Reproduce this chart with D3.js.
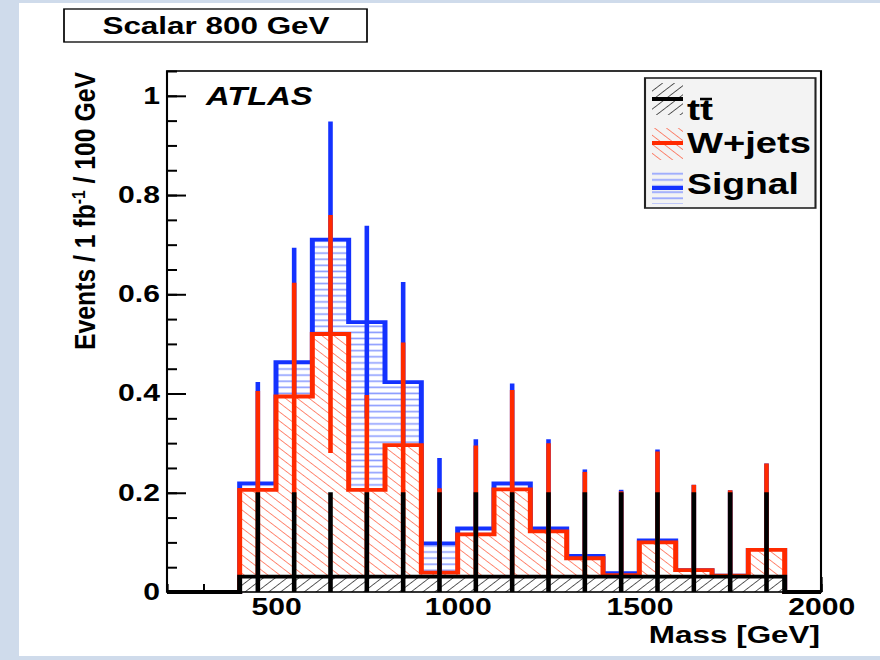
<!DOCTYPE html>
<html>
<head>
<meta charset="utf-8">
<script src="https://cdn.jsdelivr.net/npm/d3@7"></script>
<style>
  html, body { margin: 0; padding: 0; background: #fff; }
  svg { display: block; }
  text { font-family: "Liberation Sans", Arial, sans-serif; font-weight: bold; fill: #000; }
</style>
</head>
<body>
<svg id="chart" width="880" height="660"></svg>
<script>
// ==========================================
// DATA (100 GeV bins, low edges)
// ==========================================
const binLow = [200, 300, 400, 500, 600, 700, 800, 900, 1000, 1100, 1200, 1300, 1400, 1500, 1600, 1700, 1800, 1900];
const binWidth = 100;

const ttbar    = [0, 0, 0.031, 0.031, 0.031, 0.031, 0.031, 0.031, 0.031, 0.031, 0.031, 0.031, 0.031, 0.031, 0.031, 0.031, 0.031, 0];
const ttbarErr = [0, 0, 0.17, 0.17, 0.17, 0.17, 0.17, 0.17, 0.17, 0.17, 0.17, 0.17, 0.17, 0.17, 0.17, 0.17, 0.17, 0];

const wjets    = [0, 0, 0.175, 0.363, 0.489, 0.175, 0.265, 0.008, 0.085, 0.176, 0.091, 0.037, 0.003, 0.069, 0.013, 0.002, 0.054, 0];
const wjetsErr = [0, 0, 0.199, 0.229, 0.240, 0.191, 0.207, 0.170, 0.179, 0.200, 0.178, 0.174, 0.169, 0.183, 0.172, 0.172, 0.174, 0];

const signal    = [0, 0, 0.013, 0.069, 0.190, 0.338, 0.127, 0.059, 0.012, 0.012, 0.006, 0.005, 0.004, 0.004, 0, 0, 0, 0];
const signalErr = [0, 0, 0.204, 0.231, 0.238, 0.194, 0.202, 0.172, 0.180, 0.201, 0.180, 0.174, 0.168, 0.183, 0.172, 0.172, 0.174, 0];

const yTicks = [0, 0.2, 0.4, 0.6, 0.8, 1];
const yTickLabels = ['0', '0.2', '0.4', '0.6', '0.8', '1'];
const yMinorTicks = d3.range(0, 1.051, 0.05);
const xTicks = [500, 1000, 1500, 2000];
const xTickLabels = ['500', '1000', '1500', '2000'];
const xMinorTicks = d3.range(200, 2001, 100);

const legendEntries = ['tt', 'W+jets', 'Signal'];

// ==========================================
// LAYOUT
// ==========================================
// the original canvas is stretched horizontally, so everything is drawn
// in a narrower space and scaled in x
const SX = 1.31;
const ux = v => v / SX;

const frame = { left: 167, right: 821, top: 71, bottom: 592 };

const BLUE = '#1432ff', BLUE_HATCH = '#8a9bff';
const RED = '#ff2a00', RED_HATCH = '#ff4a2a';

const svg = d3.select('#chart');

// slide background
svg.append('rect').attr('width', 880).attr('height', 660).attr('fill', '#cfdbeb');
svg.append('rect').attr('x', 19).attr('y', 3).attr('width', 861).attr('height', 653).attr('fill', '#fff');

const defs = svg.append('defs');
function hatch(id, angle, size, color, width) {
  const p = defs.append('pattern')
    .attr('id', id)
    .attr('patternUnits', 'userSpaceOnUse')
    .attr('width', size).attr('height', size)
    .attr('patternTransform', `rotate(${angle})`);
  p.append('line')
    .attr('x1', 0).attr('y1', -1).attr('x2', 0).attr('y2', size + 1)
    .attr('stroke', color).attr('stroke-width', width);
}
hatch('hatch-tt', 45, 6.4, '#000', 1.1);
hatch('hatch-w', -45, 6.4, RED_HATCH, 1.1);
const ph = defs.append('pattern')
  .attr('id', 'hatch-sig')
  .attr('patternUnits', 'userSpaceOnUse')
  .attr('width', 10).attr('height', 6.1);
ph.append('line')
  .attr('x1', 0).attr('x2', 10).attr('y1', 3).attr('y2', 3)
  .attr('stroke', BLUE_HATCH).attr('stroke-width', 1.6);

const g = svg.append('g').attr('transform', `scale(${SX},1)`);

const x = d3.scaleLinear().domain([200, 2000]).range([ux(frame.left), ux(frame.right)]);
const y = d3.scaleLinear().domain([0, 1.05]).range([frame.bottom, frame.top]);

// ==========================================
// TITLE BOX
// ==========================================
g.append('rect')
  .attr('x', ux(64)).attr('y', 9)
  .attr('width', ux(367 - 64)).attr('height', 33)
  .attr('fill', '#fff').attr('stroke', '#000').attr('stroke-width', 1.3);
g.append('text')
  .attr('x', ux(216)).attr('y', 34.5)
  .attr('text-anchor', 'middle')
  .attr('font-size', 24)
  .text('Scalar 800 GeV');

// ==========================================
// AXES
// ==========================================
const yAxis = g.append('g')
  .attr('transform', `translate(${ux(frame.left)},0)`)
  .call(d3.axisLeft(y).tickValues(yTicks).tickFormat((d, i) => yTickLabels[i])
    .tickSize(-ux(19)).tickPadding(ux(7)));
yAxis.append('g')
  .call(d3.axisLeft(y).tickValues(yMinorTicks).tickFormat('').tickSize(-ux(10)));

const xAxis = g.append('g')
  .attr('transform', `translate(0,${frame.bottom})`)
  .call(d3.axisBottom(x).tickValues(xTicks).tickFormat((d, i) => xTickLabels[i])
    .tickSize(-15).tickPadding(7));
xAxis.append('g')
  .call(d3.axisBottom(x).tickValues(xMinorTicks).tickFormat('').tickSize(-8));

g.selectAll('.domain').remove();
yAxis.selectAll('line').attr('stroke', '#000').attr('stroke-width', 2);
xAxis.selectAll('line').attr('stroke', '#000').attr('stroke-width', 1.5);
g.selectAll('.tick text')
  .attr('font-size', 23)
  .attr('font-family', '"Liberation Sans", Arial, sans-serif')
  .attr('font-weight', 'bold')
  .attr('fill', '#000');

// ==========================================
// STACKED HISTOGRAMS
// ==========================================
const ttTop = ttbar.slice();
const wTop = ttbar.map((v, i) => v + wjets[i]);
const sigTop = wTop.map((v, i) => v + signal[i]);

function steps(tops) {
  const pts = binLow.map((b, i) => ({ x: b, top: tops[i] }));
  pts.push({ x: binLow[binLow.length - 1] + binWidth, top: tops[tops.length - 1] });
  return pts;
}

const area = d3.area().curve(d3.curveStepAfter)
  .x(d => x(d.x)).y0(y(0)).y1(d => y(d.top));
const outline = d3.line().curve(d3.curveStepAfter)
  .x(d => x(d.x)).y(d => y(d.top));

function drawHist(tops, errs, color, patternId) {
  const pts = steps(tops);
  const h = g.append('g');
  h.append('path').attr('d', area(pts)).attr('fill', '#fff');
  h.append('path').attr('d', area(pts)).attr('fill', `url(#${patternId})`);
  h.append('path').attr('d', outline(pts))
    .attr('fill', 'none').attr('stroke', color).attr('stroke-width', 3.8);
  h.selectAll('line.err')
    .data(binLow.map((b, i) => ({ c: b + binWidth / 2, top: tops[i], e: errs[i] })).filter(d => d.e > 0))
    .join('line')
    .attr('class', 'err')
    .attr('x1', d => x(d.c)).attr('x2', d => x(d.c))
    .attr('y1', d => y(Math.max(0, d.top - d.e)))
    .attr('y2', d => y(d.top + d.e))
    .attr('stroke', color).attr('stroke-width', 3.5);
}

drawHist(sigTop, signalErr, BLUE, 'hatch-sig');
drawHist(wTop, wjetsErr, RED, 'hatch-w');
drawHist(ttTop, ttbarErr, '#000', 'hatch-tt');

// frame
g.append('rect')
  .attr('x', ux(frame.left)).attr('y', frame.top)
  .attr('width', ux(frame.right - frame.left)).attr('height', frame.bottom - frame.top)
  .attr('fill', 'none').attr('stroke', '#000').attr('stroke-width', 1.6);

// ==========================================
// LABELS
// ==========================================
g.append('text')
  .attr('x', ux(206)).attr('y', 105)
  .attr('font-size', 25).attr('font-style', 'italic')
  .text('ATLAS');

g.append('text')
  .attr('x', ux(820)).attr('y', 643)
  .attr('text-anchor', 'end')
  .attr('font-size', 24)
  .text('Mass [GeV]');

const yTitle = g.append('text')
  .attr('transform', `translate(${ux(95)},72) rotate(-90)`)
  .attr('text-anchor', 'end')
  .attr('font-size', 22)
  .attr('textLength', 278)
  .attr('lengthAdjust', 'spacingAndGlyphs');
yTitle.append('tspan').text('Events / 1 fb');
yTitle.append('tspan').attr('dy', -8).attr('font-size', 14).text('-1');
yTitle.append('tspan').attr('dy', 8).text(' / 100 GeV');

// ==========================================
// LEGEND
// ==========================================
const leg = g.append('g');
leg.append('rect')
  .attr('x', ux(645)).attr('y', 78)
  .attr('width', ux(815.5 - 645)).attr('height', 130)
  .attr('fill', '#f3f3f3').attr('stroke', '#222').attr('stroke-width', 1.6);

const legRows = [
  { box: 83, line: 99, base: 120, color: '#000', pat: 'hatch-tt', len: null },
  { box: 128, line: 143, base: 153.5, color: RED, pat: 'hatch-w', len: 124 },
  { box: 172, line: 188, base: 194, color: BLUE, pat: 'hatch-sig', len: 112 }
];
legRows.forEach((r, i) => {
  leg.append('rect')
    .attr('x', ux(652)).attr('y', r.box)
    .attr('width', ux(31)).attr('height', 32)
    .attr('fill', `url(#${r.pat})`);
  leg.append('line')
    .attr('x1', ux(652)).attr('x2', ux(683))
    .attr('y1', r.line).attr('y2', r.line)
    .attr('stroke', r.color).attr('stroke-width', 4);
  const t = leg.append('text')
    .attr('x', ux(687)).attr('y', r.base)
    .attr('font-size', 30);
  if (r.len) {
    t.attr('textLength', ux(r.len)).attr('lengthAdjust', 'spacingAndGlyphs').text(legendEntries[i]);
  } else {
    // t t-bar: the bar sits just above the second t
    t.text(legendEntries[i]);
    leg.append('line')
      .attr('x1', ux(700)).attr('x2', ux(712))
      .attr('y1', 99).attr('y2', 99)
      .attr('stroke', '#000').attr('stroke-width', 2.5);
  }
});
</script>
</body>
</html>
